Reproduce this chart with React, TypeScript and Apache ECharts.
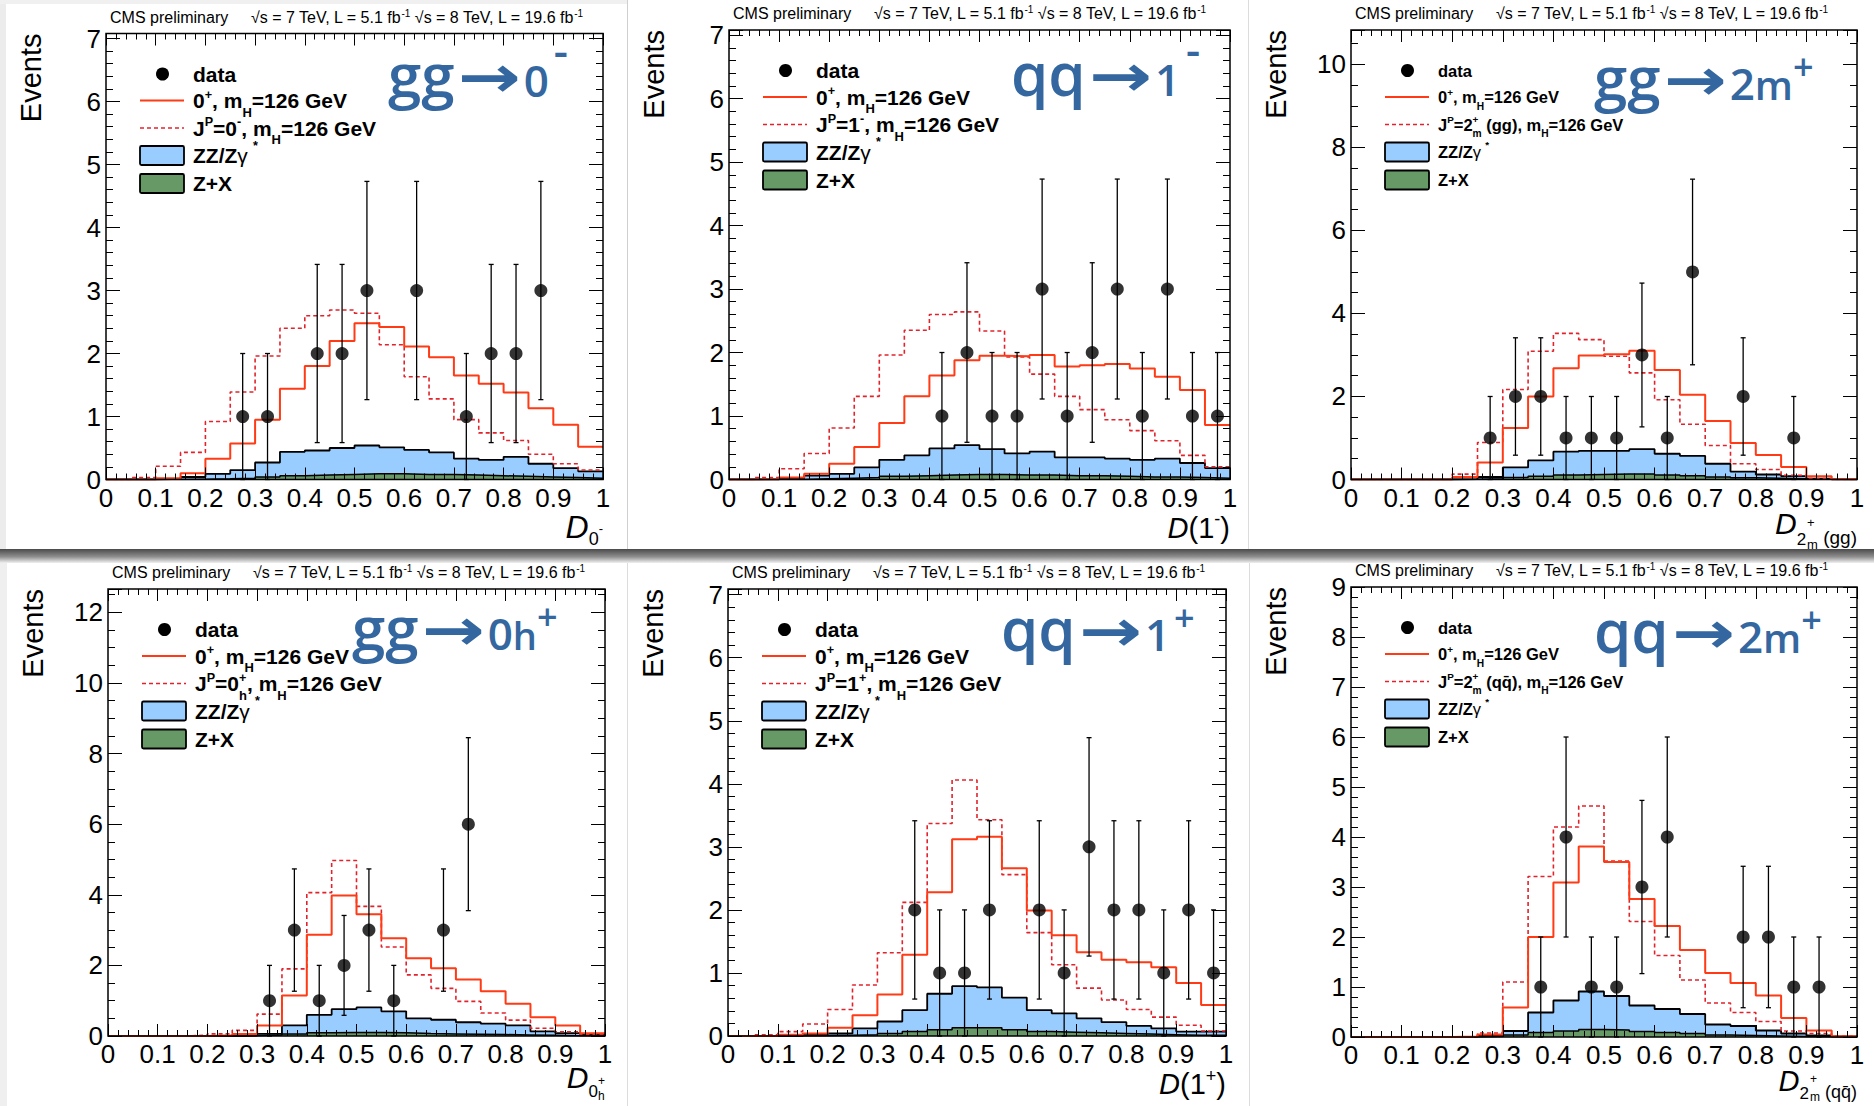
import React, { useEffect, useRef } from 'react';
import * as echarts from 'echarts';

// Histogram binning: 20 bins of width 0.05 on [0, 1]
const BIN_WIDTH = 0.05;

// ---- gg -> 0- : D_0- ----
const d0mData = [0, 0, 0, 0, 0, 1, 1, 0, 2, 2, 3, 0, 3, 0, 1, 2, 2, 3, 0, 0];
const d0mSM = [0, 0, 0.02, 0.1, 0.33, 0.57, 0.95, 1.44, 1.8, 2.2, 2.48, 2.42, 2.11, 1.94, 1.65, 1.52, 1.38, 1.13, 0.87, 0.52];
const d0mAlt = [0, 0.03, 0.21, 0.43, 0.92, 1.39, 1.96, 2.4, 2.6, 2.69, 2.64, 2.14, 1.63, 1.28, 0.95, 0.74, 0.62, 0.4, 0.25, 0.15];
const d0mZZ = [0, 0, 0.01, 0.04, 0.09, 0.15, 0.27, 0.44, 0.46, 0.5, 0.54, 0.51, 0.47, 0.43, 0.33, 0.31, 0.36, 0.25, 0.18, 0.13];
const d0mZX = [0, 0, 0, 0.005, 0.01, 0.02, 0.04, 0.06, 0.07, 0.08, 0.09, 0.09, 0.08, 0.08, 0.07, 0.06, 0.05, 0.04, 0.03, 0.02];

// ---- qq -> 1- : D(1-) ----
const d1mData = [0, 0, 0, 0, 0, 0, 0, 0, 1, 2, 1, 1, 3, 1, 2, 3, 1, 3, 1, 1];
const d1mSM = [0, 0.01, 0.03, 0.09, 0.25, 0.51, 0.89, 1.31, 1.64, 1.88, 1.95, 1.94, 1.96, 1.78, 1.8, 1.82, 1.75, 1.62, 1.41, 0.86];
const d1mAlt = [0, 0.03, 0.17, 0.41, 0.81, 1.31, 1.96, 2.35, 2.6, 2.64, 2.34, 1.93, 1.66, 1.31, 1.1, 0.94, 0.77, 0.61, 0.38, 0.2];
const d1mZZ = [0, 0, 0.02, 0.06, 0.09, 0.19, 0.31, 0.38, 0.49, 0.54, 0.48, 0.41, 0.44, 0.35, 0.35, 0.33, 0.31, 0.33, 0.26, 0.18];
const d1mZX = [0, 0, 0, 0.01, 0.02, 0.03, 0.05, 0.06, 0.07, 0.08, 0.08, 0.07, 0.07, 0.06, 0.06, 0.05, 0.04, 0.04, 0.03, 0.02];

// ---- gg -> 2m+ : D_2m+ (gg) ----
const d2gData = [0, 0, 0, 0, 0, 1, 2, 2, 1, 1, 1, 3, 1, 5, 0, 2, 0, 1, 0, 0];
const d2gSM = [0, 0, 0, 0, 0.06, 0.41, 1.24, 2.0, 2.68, 2.99, 3.02, 3.1, 2.64, 2.04, 1.41, 0.88, 0.59, 0.3, 0.08, 0.01];
const d2gAlt = [0, 0, 0, 0, 0.13, 0.89, 2.17, 3.09, 3.52, 3.37, 2.97, 2.57, 1.92, 1.33, 0.82, 0.38, 0.24, 0.1, 0.02, 0];
const d2gZZ = [0, 0, 0, 0, 0.01, 0.06, 0.29, 0.46, 0.67, 0.69, 0.69, 0.73, 0.62, 0.57, 0.38, 0.19, 0.12, 0.08, 0.02, 0];
const d2gZX = [0, 0, 0, 0, 0.005, 0.02, 0.05, 0.08, 0.11, 0.12, 0.13, 0.13, 0.11, 0.09, 0.06, 0.04, 0.03, 0.02, 0.01, 0];

// ---- gg -> 0h+ : D_0h+ ----
const d0hData = [0, 0, 0, 0, 0, 0, 1, 3, 1, 2, 3, 1, 0, 3, 6, 0, 0, 0, 0, 0];
const d0hSM = [0, 0, 0, 0, 0.02, 0.06, 0.3, 1.15, 2.87, 3.98, 3.45, 2.77, 2.2, 1.92, 1.6, 1.27, 0.91, 0.53, 0.3, 0.08];
const d0hAlt = [0, 0, 0, 0.02, 0.06, 0.16, 0.62, 1.9, 4.06, 4.97, 3.67, 2.52, 1.73, 1.35, 0.98, 0.65, 0.45, 0.22, 0.12, 0.05];
const d0hZZ = [0, 0, 0, 0, 0, 0.01, 0.06, 0.3, 0.6, 0.76, 0.81, 0.7, 0.5, 0.46, 0.39, 0.35, 0.3, 0.13, 0.08, 0.05];
const d0hZX = [0, 0, 0, 0, 0, 0.01, 0.03, 0.06, 0.09, 0.1, 0.1, 0.09, 0.07, 0.06, 0.05, 0.04, 0.03, 0.02, 0.01, 0.01];

// ---- qq -> 1+ : D(1+) ----
const d1pData = [0, 0, 0, 0, 0, 0, 0, 2, 1, 1, 2, 0, 2, 1, 3, 2, 2, 1, 2, 1];
const d1pSM = [0, 0, 0.02, 0.04, 0.13, 0.33, 0.66, 1.29, 2.28, 3.12, 3.16, 2.66, 1.99, 1.6, 1.33, 1.21, 1.17, 1.09, 0.84, 0.49];
const d1pAlt = [0, 0.02, 0.07, 0.19, 0.42, 0.81, 1.32, 2.12, 3.37, 4.06, 3.43, 2.56, 1.64, 1.13, 0.76, 0.57, 0.42, 0.3, 0.17, 0.08];
const d1pZZ = [0, 0, 0, 0.02, 0.04, 0.12, 0.23, 0.41, 0.67, 0.79, 0.77, 0.61, 0.41, 0.36, 0.28, 0.22, 0.16, 0.12, 0.07, 0.07];
const d1pZX = [0, 0, 0, 0.005, 0.01, 0.02, 0.04, 0.07, 0.1, 0.13, 0.13, 0.1, 0.07, 0.06, 0.05, 0.04, 0.03, 0.02, 0.01, 0.01];

// ---- qq -> 2m+ : D_2m+ (qqbar) ----
const d2qData = [0, 0, 0, 0, 0, 0, 0, 1, 4, 1, 1, 3, 4, 0, 0, 2, 2, 1, 1, 0];
const d2qSM = [0, 0, 0, 0, 0.01, 0.05, 0.59, 2.0, 3.09, 3.81, 3.5, 2.76, 2.22, 1.74, 1.28, 1.08, 0.83, 0.38, 0.13, 0.01];
const d2qAlt = [0, 0, 0, 0, 0, 0.08, 1.1, 3.21, 4.2, 4.62, 3.52, 2.31, 1.63, 1.14, 0.68, 0.49, 0.31, 0.12, 0.07, 0.02];
const d2qZZ = [0, 0, 0, 0, 0, 0.03, 0.12, 0.49, 0.73, 0.91, 0.82, 0.63, 0.56, 0.46, 0.25, 0.22, 0.13, 0.07, 0.03, 0.01];
const d2qZX = [0, 0, 0, 0, 0, 0.01, 0.04, 0.09, 0.12, 0.15, 0.14, 0.11, 0.09, 0.07, 0.04, 0.03, 0.02, 0.01, 0.005, 0];

// ---- styling ----
const SANS = '"Liberation Sans", Arial, Helvetica, sans-serif';
const TITLE_FONT = '"Open Sans", sans-serif';
const ARROW_FONT = '"DejaVu Sans", sans-serif';
const CENTRAL: Record<string, number> = { [SANS]: 0.347, [TITLE_FONT]: 0.388, [ARROW_FONT]: 0.346 };
const TITLE_BLUE = '#34679f';
const SM_RED = '#ff3a14';
const ALT_RED = '#e2232b';
const ZZ_BLUE = '#99ccff';
const ZX_GREEN = '#669966';

type Piece = {
  t: string;
  size: number;
  bold?: boolean | number;
  italic?: boolean;
  family?: string;
  rise?: number;
  stack?: boolean;
  kern?: number;
  color?: string;
  sx?: number;
};

let measureCtx: CanvasRenderingContext2D | null = null;
function fontOf(p: Piece) {
  const w = p.bold === true ? 'bold' : p.bold ? String(p.bold) : 'normal';
  return `${p.italic ? 'italic' : 'normal'} ${w} ${p.size}px ${p.family ?? SANS}`;
}
function measure(p: Piece) {
  if (!measureCtx) measureCtx = document.createElement('canvas').getContext('2d');
  measureCtx!.font = fontOf(p);
  return measureCtx!.measureText(p.t).width * (p.sx ?? 1);
}

// Lay out a run of text pieces on a common baseline (with sub/superscripts)
function run(x: number, baseline: number, pieces: Piece[], align: 'left' | 'right' = 'left', color = '#000') {
  let cursor = 0;
  let lastStart = 0;
  let lastW = 0;
  const placed: { p: Piece; start: number }[] = [];
  for (const p of pieces) {
    const w = measure(p);
    let start: number;
    if (p.stack) {
      start = lastStart;
      lastW = Math.max(lastW, w);
      cursor = lastStart + lastW;
    } else {
      start = cursor + (p.kern ?? 0);
      cursor = start + w;
      lastStart = start;
      lastW = w;
    }
    placed.push({ p, start });
  }
  const x0 = align === 'right' ? x - cursor : x;
  return placed.map(({ p, start }) => ({
    type: 'text',
    z: 20,
    silent: true,
    x: x0 + start,
    y: baseline - (p.rise ?? 0) - (CENTRAL[p.family ?? SANS] ?? 0.35) * p.size,
    scaleX: p.sx ?? 1,
    style: { text: p.t, font: fontOf(p), fill: p.color ?? color, align: 'left', verticalAlign: 'middle' },
  }));
}

const M = (t: string, s: number): Piece => ({ t, size: s, bold: true });
const SUP = (t: string, s: number, kern = 0): Piece => ({ t, size: s * 0.6, bold: true, rise: s * 0.42, kern });
const SUB = (t: string, s: number, stack = false): Piece => ({ t, size: s * 0.62, bold: true, rise: -s * 0.42, stack });

const smLabel = (s: number): Piece[] => [M('0', s), SUP('+', s), M(', m', s), SUB('H', s), M('=126 GeV', s)];

const tg = (t: string, size = 60, extra: Partial<Piece> = {}): Piece => ({ t, size, bold: 600, family: TITLE_FONT, color: TITLE_BLUE, ...extra });
const ARROW: Piece = { t: '→', size: 58, bold: true, family: ARROW_FONT, color: TITLE_BLUE, kern: 3, sx: 1.3 };

type PanelDef = {
  data: number[];
  sm: number[];
  alt: number[];
  zz: number[];
  zx: number[];
  rect: [number, number, number, number];
  yMax: number;
  yMajor: number;
  yMinor: number;
  legendSize: number;
  altLabel: (s: number) => Piece[];
  xTitle: Piece[];
  xTitleBaseline: number;
  title: Piece[];
  titleX: number;
  titleBaseline: number;
};

const PANELS: PanelDef[] = [
  {
    data: d0mData, sm: d0mSM, alt: d0mAlt, zz: d0mZZ, zx: d0mZX,
    rect: [106, 33.5, 603, 479.5], yMax: 7.08, yMajor: 1, yMinor: 0.2, legendSize: 21,
    altLabel: (s) => [M('J', s), SUP('P', s), M('=0', s), SUP('-', s), M(', m', s), SUB('H', s), M('=126 GeV', s)],
    xTitle: [{ t: 'D', size: 32, italic: true }, { t: '0', size: 18, rise: -7 }, { t: '-', size: 13, rise: 5 }],
    xTitleBaseline: 538,
    title: [tg('gg'), ARROW, tg('0', 44, { kern: 3 }), tg('-', 44, { rise: 30, kern: 5 })],
    titleX: 388, titleBaseline: 97.5,
  },
  {
    data: d1mData, sm: d1mSM, alt: d1mAlt, zz: d1mZZ, zx: d1mZX,
    rect: [729, 30, 1230, 479.5], yMax: 7.08, yMajor: 1, yMinor: 0.2, legendSize: 21,
    altLabel: (s) => [M('J', s), SUP('P', s), M('=1', s), SUP('-', s), M(', m', s), SUB('H', s), M('=126 GeV', s)],
    xTitle: [{ t: 'D', size: 29, italic: true }, { t: '(1', size: 29 }, { t: '-', size: 18, rise: 13 }, { t: ')', size: 29 }],
    xTitleBaseline: 538,
    title: [tg('qq'), ARROW, tg('1', 44, { kern: 3 }), tg('-', 44, { rise: 30, kern: 6 })],
    titleX: 1011, titleBaseline: 96,
  },
  {
    data: d2gData, sm: d2gSM, alt: d2gAlt, zz: d2gZZ, zx: d2gZX,
    rect: [1351, 30, 1857, 479.5], yMax: 10.83, yMajor: 2, yMinor: 0.5, legendSize: 16.5,
    altLabel: (s) => [M('J', s), SUP('P', s), M('=2', s), SUP('+', s), SUB('m', s, true), M(' (gg), m', s), SUB('H', s), M('=126 GeV', s)],
    xTitle: [{ t: 'D', size: 30, italic: true }, { t: '2', size: 17, rise: -11 }, { t: '+', size: 13, rise: 7, kern: 1 }, { t: 'm', size: 13, rise: -15, stack: true }, { t: ' (gg)', size: 19, rise: -10 }],
    xTitleBaseline: 534,
    title: [tg('gg'), ARROW, tg('2', 44, { kern: 3 }), tg('m', 40), tg('+', 36, { rise: 20 })],
    titleX: 1594, titleBaseline: 100,
  },
  {
    data: d0hData, sm: d0hSM, alt: d0hAlt, zz: d0hZZ, zx: d0hZX,
    rect: [108, 589, 605, 1036], yMax: 12.66, yMajor: 2, yMinor: 0.5, legendSize: 21,
    altLabel: (s) => [M('J', s), SUP('P', s), M('=0', s), SUP('+', s), SUB('h', s, true), M(', m', s), SUB('H', s), M('=126 GeV', s)],
    xTitle: [{ t: 'D', size: 30, italic: true }, { t: '0', size: 17, rise: -9 }, { t: '+', size: 12, rise: 3 }, { t: 'h', size: 12, rise: -12, stack: true }],
    xTitleBaseline: 1088,
    title: [tg('gg'), ARROW, tg('0', 44, { kern: 3 }), tg('h', 38), tg('+', 36, { rise: 20 })],
    titleX: 352, titleBaseline: 650,
  },
  {
    data: d1pData, sm: d1pSM, alt: d1pAlt, zz: d1pZZ, zx: d1pZX,
    rect: [728, 589, 1226, 1036], yMax: 7.09, yMajor: 1, yMinor: 0.2, legendSize: 21,
    altLabel: (s) => [M('J', s), SUP('P', s), M('=1', s), SUP('+', s), M(', m', s), SUB('H', s), M('=126 GeV', s)],
    xTitle: [{ t: 'D', size: 29, italic: true }, { t: '(1', size: 29 }, { t: '+', size: 18, rise: 12 }, { t: ')', size: 29 }],
    xTitleBaseline: 1094,
    title: [tg('qq'), ARROW, tg('1', 44, { kern: 3 }), tg('+', 36, { rise: 20, kern: 4 })],
    titleX: 1001, titleBaseline: 651,
  },
  {
    data: d2qData, sm: d2qSM, alt: d2qAlt, zz: d2qZZ, zx: d2qZX,
    rect: [1351, 587, 1857, 1037], yMax: 9, yMajor: 1, yMinor: 0.2, legendSize: 16.5,
    altLabel: (s) => [M('J', s), SUP('P', s), M('=2', s), SUP('+', s), SUB('m', s, true), M(' (qq\u0304), m', s), SUB('H', s), M('=126 GeV', s)],
    xTitle: [{ t: 'D', size: 29, italic: true }, { t: '2', size: 17, rise: -8 }, { t: '+', size: 12, rise: 8, kern: 1 }, { t: 'm', size: 12, rise: -10, stack: true }, { t: ' (qq\u0304)', size: 18, rise: -7 }],
    xTitleBaseline: 1091,
    title: [tg('qq'), ARROW, tg('2', 44, { kern: 3 }), tg('m', 40), tg('+', 36, { rise: 20 })],
    titleX: 1594, titleBaseline: 653,
  },
];

// histogram outline points: left bin edges plus the closing right edge
function histPoints(vals: number[]) {
  const pts = vals.map((v, i) => [i * BIN_WIDTH, v]);
  pts.push([vals.length * BIN_WIDTH, vals[vals.length - 1]]);
  return pts;
}

function tickAxis(gridIndex: number, position: string, max: number, interval: number, len: number, labels: boolean) {
  const horizontal = position === 'bottom' || position === 'top';
  return {
    type: 'value',
    gridIndex,
    position,
    min: 0,
    max,
    interval,
    z: 9,
    axisLine: { show: false, onZero: false },
    splitLine: { show: false },
    axisTick: { show: true, inside: true, length: len, lineStyle: { color: '#000', width: 1 } },
    axisLabel: labels
      ? {
          show: true,
          margin: horizontal ? 9 : 5,
          lineHeight: horizontal ? 18 : 26,
          fontSize: 26,
          fontFamily: SANS,
          color: '#000',
          formatter: (v: number) => (Math.abs(v / interval - Math.round(v / interval)) < 1e-6 ? String(+v.toFixed(2)) : ''),
        }
      : { show: false },
  };
}

function buildOption() {
  const grid: any[] = [];
  const xAxis: any[] = [];
  const yAxis: any[] = [];
  const series: any[] = [];
  const graphics: any[] = [];

  // page framing between the six plots
  graphics.push(
    { type: 'rect', z: 0, silent: true, shape: { x: 0, y: 0, width: 6, height: 549 }, style: { fill: '#ececec' } },
    { type: 'rect', z: 0, silent: true, shape: { x: 0, y: 0, width: 627, height: 4 }, style: { fill: '#f0f0f0' } },
    { type: 'rect', z: 0, silent: true, shape: { x: 0, y: 561, width: 7, height: 545 }, style: { fill: '#efefef' } },
    { type: 'line', z: 0, silent: true, shape: { x1: 627.5, y1: 0, x2: 627.5, y2: 549 }, style: { stroke: '#cfcfcf', lineWidth: 1 } },
    { type: 'line', z: 0, silent: true, shape: { x1: 1248.5, y1: 0, x2: 1248.5, y2: 549 }, style: { stroke: '#dcdcdc', lineWidth: 1 } },
    { type: 'line', z: 0, silent: true, shape: { x1: 627.5, y1: 561, x2: 627.5, y2: 1106 }, style: { stroke: '#dcdcdc', lineWidth: 1 } },
    { type: 'line', z: 0, silent: true, shape: { x1: 1249.5, y1: 561, x2: 1249.5, y2: 1106 }, style: { stroke: '#dcdcdc', lineWidth: 1 } },
    {
      type: 'rect', z: 0, silent: true,
      shape: { x: 0, y: 549, width: 1874, height: 14 },
      style: {
        fill: new echarts.graphic.LinearGradient(0, 0, 0, 1, [
          { offset: 0, color: '#4a4a4a' },
          { offset: 0.55, color: '#8e8e8e' },
          { offset: 1, color: '#f0f0f0' },
        ]),
      },
    }
  );

  PANELS.forEach((p, k) => {
    const [L, T, R, B] = p.rect;
    grid.push({ left: L, top: T, width: R - L, height: B - T, show: true, borderColor: '#000', borderWidth: 1.5, backgroundColor: 'transparent', z: 10 });

    xAxis.push(
      tickAxis(k, 'bottom', 1, 0.1, 12, true),
      tickAxis(k, 'bottom', 1, 0.02, 6, false),
      tickAxis(k, 'top', 1, 0.1, 12, false),
      tickAxis(k, 'top', 1, 0.02, 6, false)
    );
    yAxis.push(
      tickAxis(k, 'left', p.yMax, p.yMajor, 14, true),
      tickAxis(k, 'left', p.yMax, p.yMinor, 7, false),
      tickAxis(k, 'right', p.yMax, p.yMajor, 14, false),
      tickAxis(k, 'right', p.yMax, p.yMinor, 7, false)
    );
    const ax = { xAxisIndex: 4 * k, yAxisIndex: 4 * k };

    // ZZ/Zγ* stacked on Z+X (blue outline is the stacked total), then Z+X
    series.push({
      ...ax, type: 'line', step: 'end', symbol: 'none', silent: true, z: 2,
      data: histPoints(p.zz),
      lineStyle: { color: '#000', width: 1.8 },
      areaStyle: { color: ZZ_BLUE, opacity: 1 },
    });
    series.push({
      ...ax, type: 'line', step: 'end', symbol: 'none', silent: true, z: 3,
      data: histPoints(p.zx),
      lineStyle: { color: '#000', width: 1.5 },
      areaStyle: { color: ZX_GREEN, opacity: 1 },
    });
    series.push({
      ...ax, type: 'line', step: 'end', symbol: 'none', silent: true, z: 4,
      data: histPoints(p.alt),
      lineStyle: { color: ALT_RED, width: 1.6, type: [4, 3] },
    });
    series.push({
      ...ax, type: 'line', step: 'end', symbol: 'none', silent: true, z: 5,
      data: histPoints(p.sm),
      lineStyle: { color: SM_RED, width: 2 },
    });

    const pts = p.data
      .map((n, i) => [(i + 0.5) * BIN_WIDTH, n])
      .filter((d) => d[1] > 0);
    // Poisson sqrt(n) error bars
    series.push({
      ...ax, type: 'custom', silent: true, z: 6,
      data: pts.map(([x, n]) => [x, n, Math.sqrt(n)]),
      renderItem: (_params: any, api: any) => {
        const x = api.value(0);
        const y = api.value(1);
        const e = api.value(2);
        const top = api.coord([x, y + e]);
        const bot = api.coord([x, Math.max(0, y - e)]);
        const st = { stroke: '#000', lineWidth: 1.3 };
        const cap = 2.5;
        return {
          type: 'group',
          children: [
            { type: 'line', shape: { x1: top[0], y1: top[1], x2: bot[0], y2: bot[1] }, style: st },
            { type: 'line', shape: { x1: top[0] - cap, y1: top[1], x2: top[0] + cap, y2: top[1] }, style: st },
            { type: 'line', shape: { x1: bot[0] - cap, y1: bot[1], x2: bot[0] + cap, y2: bot[1] }, style: st },
          ],
        };
      },
    });
    series.push({
      ...ax, type: 'scatter', silent: true, z: 7,
      symbol: 'circle', symbolSize: 13,
      itemStyle: { color: '#000' },
      data: pts,
    });

    // header line
    graphics.push(...run(L + 4, T - 10.7, [{ t: 'CMS preliminary', size: 16 }]));
    graphics.push(
      ...run(L + 145, T - 10.7, [
        { t: '√s = 7 TeV, L = 5.1 fb', size: 16 },
        { t: '-1', size: 10, rise: 6 },
        { t: ' √s = 8 TeV, L = 19.6 fb', size: 16 },
        { t: '-1', size: 10, rise: 6 },
      ])
    );

    // y title
    graphics.push({
      type: 'text', z: 20, silent: true, x: L - 75, y: T, rotation: Math.PI / 2,
      style: { text: 'Events', font: `normal normal 29px ${SANS}`, fill: '#000', align: 'right', verticalAlign: 'middle' },
    });

    // x title
    graphics.push(...run(R, p.xTitleBaseline, p.xTitle, 'right'));

    // process title
    graphics.push(...run(p.titleX, p.titleBaseline, p.title));

    // legend
    const s = p.legendSize;
    const rows = [40.5, 67, 94.5, 122, 150].map((d) => T + d);
    const xs = L + 34;
    const xe = L + 78;
    const tx = L + 87;
    const base = (r: number) => r + 0.35 * s;
    graphics.push({ type: 'circle', z: 20, silent: true, shape: { cx: L + 56.5, cy: rows[0], r: 6.5 }, style: { fill: '#000' } });
    graphics.push(...run(tx, base(rows[0]), [M('data', s)]));
    graphics.push({ type: 'line', z: 20, silent: true, shape: { x1: xs, y1: rows[1], x2: xe, y2: rows[1] }, style: { stroke: SM_RED, lineWidth: 2 } });
    graphics.push(...run(tx, base(rows[1]), smLabel(s)));
    graphics.push({ type: 'line', z: 20, silent: true, shape: { x1: xs, y1: rows[2], x2: xe, y2: rows[2] }, style: { stroke: ALT_RED, lineWidth: 1.6, lineDash: [4, 3] } });
    graphics.push(...run(tx, base(rows[2]), p.altLabel(s)));
    graphics.push({ type: 'rect', z: 20, silent: true, shape: { x: xs, y: rows[3] - 9.5, width: xe - xs, height: 19, r: 1.5 }, style: { fill: ZZ_BLUE, stroke: '#000', lineWidth: 1.8 } });
    graphics.push(
      ...run(tx, base(rows[3]), [M('ZZ/Z', s), { t: 'γ', size: s }, { t: '*', size: s * 0.6, bold: true, rise: s * 0.6, kern: s * 0.25 }])
    );
    graphics.push({ type: 'rect', z: 20, silent: true, shape: { x: xs, y: rows[4] - 9.5, width: xe - xs, height: 19, r: 1.5 }, style: { fill: ZX_GREEN, stroke: '#000', lineWidth: 1.8 } });
    graphics.push(...run(tx, base(rows[4]), [M('Z+X', s)]));
  });

  return {
    animation: false,
    backgroundColor: '#ffffff',
    grid,
    xAxis,
    yAxis,
    series,
    graphic: { elements: graphics },
  };
}

export default function App() {
  const ref = useRef<HTMLDivElement>(null);
  useEffect(() => {
    if (!ref.current) return;
    const chart = echarts.init(ref.current, null, { renderer: 'svg', width: 1874, height: 1106 });
    chart.setOption(buildOption() as any);
    return () => chart.dispose();
  }, []);
  return (
    <div
      ref={ref}
      style={{ position: 'fixed', left: 0, top: 0, width: 1874, height: 1106, background: '#fff' }}
    />
  );
}
